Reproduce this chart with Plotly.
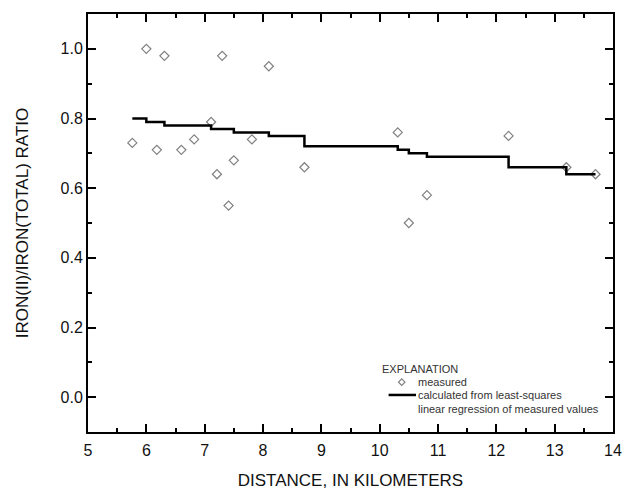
import plotly.graph_objects as go

# measured points
dist_measured = [5.76, 6.0, 6.18, 6.31, 6.6, 6.82, 7.11, 7.21, 7.30, 7.41, 7.50, 7.81, 8.10, 8.71,
                 10.31, 10.50, 10.81, 12.21, 13.20, 13.70]
ratio_measured = [0.73, 1.00, 0.71, 0.98, 0.71, 0.74, 0.79, 0.64, 0.98, 0.55, 0.68, 0.74, 0.95, 0.66,
                  0.76, 0.50, 0.58, 0.75, 0.66, 0.64]

# calculated (step) line
dist_calc = [5.76, 6.0, 6.31, 7.11, 7.5, 8.1, 8.71, 10.31, 10.5, 10.81, 12.21, 13.2, 13.7]
ratio_calc = [0.80, 0.79, 0.78, 0.77, 0.76, 0.75, 0.72, 0.71, 0.70, 0.69, 0.66, 0.64, 0.64]

x_ticks = list(range(5, 15))
y_ticks = [0.0, 0.2, 0.4, 0.6, 0.8, 1.0]

FONT = "Liberation Sans, Arial, sans-serif"
MARK_COLOR = "#808080"

fig = go.Figure()
fig.add_trace(go.Scatter(
    x=dist_measured, y=ratio_measured, mode="markers", name="measured",
    marker=dict(symbol="diamond-open", size=7, color=MARK_COLOR, line=dict(width=1.2, color=MARK_COLOR)),
))
fig.add_trace(go.Scatter(
    x=dist_calc, y=ratio_calc, mode="lines", line_shape="hv",
    name="calculated",
    line=dict(color="black", width=2.5),
))

axis_common = dict(
    showgrid=False, zeroline=False, showline=True, linecolor="black", linewidth=2,
    mirror="ticks", ticks="inside", ticklen=8, tickwidth=2, tickcolor="black",
    tickfont=dict(family=FONT, size=16, color="#111"), automargin=False,
)

fig.update_xaxes(range=[5, 14], tickvals=x_ticks, ticklabelstandoff=3,
                 minor=dict(dtick=0.5, ticks="inside", ticklen=4, tickwidth=1.5, tickcolor="black"),
                 title=dict(text="DISTANCE, IN KILOMETERS", font=dict(family=FONT, size=17, color="#111"), standoff=16),
                 **axis_common)
fig.update_yaxes(range=[-0.1, 1.1], tickvals=y_ticks, tickformat=".1f",
                 minor=dict(dtick=0.1, tick0=0, ticks="inside", ticklen=4, tickwidth=1.5, tickcolor="black"),
                 title=dict(text="IRON(II)/IRON(TOTAL) RATIO", font=dict(family=FONT, size=17, color="#111"), standoff=28),
                 **axis_common)

# hand-drawn explanation (legend) block
LEG_FONT = dict(family=FONT, size=11, color="#333")
annos = [
    dict(x=10.0, y=0.0815, text="EXPLANATION", font=dict(family=FONT, size=11, color="#333")),
    dict(x=10.63, y=0.043, text="measured", font=LEG_FONT),
    dict(x=10.63, y=0.0063, text="calculated from least-squares", font=LEG_FONT),
    dict(x=10.63, y=-0.0333, text="linear regression of measured values", font=LEG_FONT),
]
for a in annos:
    fig.add_annotation(xref="x", yref="y", xanchor="left", yanchor="middle", showarrow=False, **a)

# legend keys
dx, dy = 0.055, 0.0095
cx, cy = 10.378, 0.043
fig.add_shape(type="path", xref="x", yref="y",
              path=f"M {cx-dx},{cy} L {cx},{cy+dy} L {cx+dx},{cy} L {cx},{cy-dy} Z",
              line=dict(color=MARK_COLOR, width=1.2), fillcolor="rgba(0,0,0,0)")
fig.add_shape(type="line", xref="x", yref="y", x0=10.153, x1=10.623, y0=0.0063, y1=0.0063,
              line=dict(color="black", width=2.5))

fig.update_layout(
    width=626, height=494,
    margin=dict(l=88, r=13, t=14, b=62),
    paper_bgcolor="white", plot_bgcolor="white",
    showlegend=False,
)

fig.write_html("out.html")
